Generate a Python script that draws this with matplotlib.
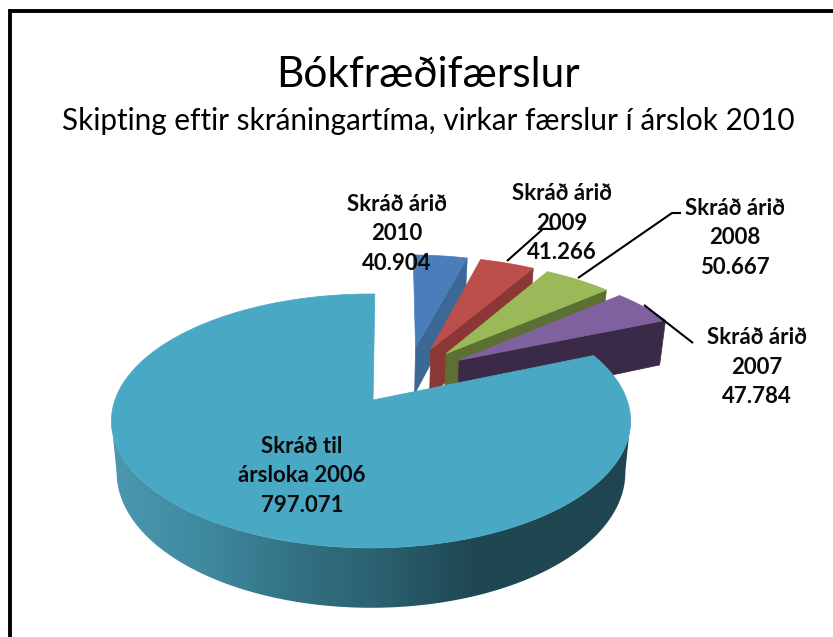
import numpy as np
import matplotlib
matplotlib.use("Agg")
import matplotlib.pyplot as plt
from matplotlib.patches import Polygon
from matplotlib.colors import LinearSegmentedColormap

categories = ["Skráð árið 2010", "Skráð árið 2009", "Skráð árið 2008", "Skráð árið 2007", "Skráð til ársloka 2006"]
values = [40904, 41266, 50667, 47784, 797071]
label_lines = ["Skráð árið\n2010\n40.904", "Skráð árið\n2009\n41.266", "Skráð árið\n2008\n50.667",
               "Skráð árið\n2007\n47.784", "Skráð til\nársloka 2006\n797.071"]
label_pos = [(397, 234), (562, 223), (735, 238), (757, 367), (302, 476)]
top_colors = ["#4a7ebb", "#bc4e4b", "#9aba59", "#8061a0", "#49a8c3"]
wall_colors = ["#3c6896", "#8a3735", "#5b7032", "#3a2a48", "#2d6373"]
title = "Bókfræðifærslur"
subtitle = "Skipting eftir skráningartíma, virkar færslur í árslok 2010"

# projection of the tilted pie
CX, CY, A, B, K, DEPTH = 371.0, 400.0, 256.0, 123.5, 0.165, 50.0
TAPER = 0.0004
EXPLODE = 0.25
HUB = (0.15, 0.21)
ROTATION = np.deg2rad(1.0)
BIG_APEX_X = 0.008

def project(X, Y, z=0.0):
    s = 1.0 / (1.0 + K * Y)
    return CX + A * X * s * (1 - TAPER * z), CY - B * Y * s + z * s

fig = plt.figure(figsize=(8.33, 6.37), dpi=100, facecolor="white")
ax = fig.add_axes([0, 0, 1, 1])
ax.axis("off")

edges = np.cumsum([0] + values) / sum(values) * 2 * np.pi + ROTATION

def slice_points(t0, t1, ox, oy, z=0.0, n=120):
    th = np.linspace(t0, t1, n)
    return project(ox + np.sin(th), oy + np.cos(th), z)

# small exploded slices, back to front
for i in range(4):
    t0, t1 = edges[i], edges[i + 1]
    mid = (t0 + t1) / 2
    ox = HUB[0] + EXPLODE * np.sin(mid)
    oy = HUB[1] + EXPLODE * np.cos(mid)
    p0 = project(ox, oy)
    p0z = project(ox, oy, DEPTH)
    e = project(ox + np.sin(t1), oy + np.cos(t1))
    ez = project(ox + np.sin(t1), oy + np.cos(t1), DEPTH)
    ax.add_patch(Polygon([p0, e, ez, p0z], closed=True, fc=wall_colors[i], ec=wall_colors[i], lw=0.5, zorder=2 + i))
    xs, ys = slice_points(t0, t1, ox, oy)
    pts = np.column_stack([np.r_[p0[0], xs], np.r_[p0[1], ys]])
    ax.add_patch(Polygon(pts, closed=True, fc=top_colors[i], ec=top_colors[i], lw=0.5, zorder=2 + i))

# large slice: shaded outer wall, then top
t0, t1 = edges[4], edges[5]
th = np.linspace(t0, t1, 400)
wx, wy = project(np.sin(th), np.cos(th))
bx, by = project(np.sin(th), np.cos(th), DEPTH)
i_right, i_left = int(np.argmax(wx)), int(np.argmin(wx))
shade_x = [110, 200, 300, 370, 470, 631]
shade_colors = ["#4c98b0", "#408aa0", "#327082", "#2d6373", "#1f4853", "#1f4650"]
shade_stops = [(x - shade_x[0]) / (shade_x[-1] - shade_x[0]) for x in shade_x]
shade = LinearSegmentedColormap.from_list("wall", list(zip(shade_stops, shade_colors)))
wall_outline = Polygon(np.column_stack([np.r_[wx[i_right:i_left + 1], bx[i_right:i_left + 1][::-1]],
                                        np.r_[wy[i_right:i_left + 1], by[i_right:i_left + 1][::-1]]]),
                       closed=True, fc="none", ec="none", transform=ax.transData)
ax.add_patch(wall_outline)
img = ax.imshow(np.linspace(0, 1, 521)[None, :], extent=(shade_x[0], shade_x[-1], 640, 280), cmap=shade,
                aspect="auto", interpolation="bilinear", zorder=7)
img.set_clip_path(wall_outline)
apex = project(BIG_APEX_X, 0)
ax.add_patch(Polygon(np.column_stack([np.r_[apex[0], wx], np.r_[apex[1], wy]]), closed=True,
                     fc=top_colors[4], ec=top_colors[4], lw=0.5, zorder=8))

# leader lines
leaders = [([507, 543, 553], [261, 229, 229]),
           ([578, 672, 681], [278, 213, 213]),
           ([644, 693], [305, 343])]
for lx, ly in leaders:
    ax.plot(lx, ly, color="black", lw=1.5, zorder=9, solid_capstyle="butt")

# data labels
for txt, (x, y) in zip(label_lines, label_pos):
    ax.text(x, y, txt, ha="center", va="center", fontsize=16, fontweight="bold", family="Lato",
            color="#0a0a0a", linespacing=1.48, zorder=10)

# titles
ax.text(428, 75, title, ha="center", va="center", fontsize=30.6, family="Lato", color="black")
ax.text(428, 121, subtitle, ha="center", va="center", fontsize=21.4, family="Lato", color="black")

# frame
ax.plot([10.5, 10.5, 833], [637, 11, 11], color="black", lw=2.8, solid_joinstyle="miter", zorder=11)

ax.set_xlim(0, 833)
ax.set_ylim(637, 0)
fig.savefig("out.png", dpi=100, facecolor="white")
